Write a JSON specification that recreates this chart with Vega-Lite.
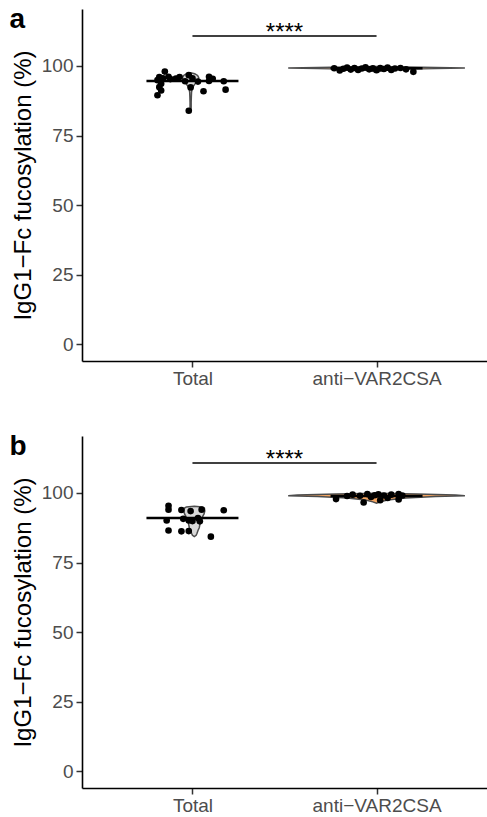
{
  "$schema": "https://vega.github.io/schema/vega-lite/v6.json",
  "padding": {"left": 9, "top": 5, "right": 0, "bottom": 0},
  "background": "white",
  "datasets": {
    "pointsA": [
      {"group": "Total", "pos": 0.85, "fucosylation": 98.0},
      {"group": "Total", "pos": 0.82, "fucosylation": 96.0},
      {"group": "Total", "pos": 0.84, "fucosylation": 95.6},
      {"group": "Total", "pos": 0.81, "fucosylation": 94.9},
      {"group": "Total", "pos": 0.83, "fucosylation": 93.6},
      {"group": "Total", "pos": 0.82, "fucosylation": 92.4},
      {"group": "Total", "pos": 0.81, "fucosylation": 89.5},
      {"group": "Total", "pos": 0.83, "fucosylation": 91.2},
      {"group": "Total", "pos": 0.87, "fucosylation": 96.1},
      {"group": "Total", "pos": 0.88, "fucosylation": 95.3},
      {"group": "Total", "pos": 0.91, "fucosylation": 95.5},
      {"group": "Total", "pos": 0.93, "fucosylation": 96.0},
      {"group": "Total", "pos": 0.96, "fucosylation": 94.5},
      {"group": "Total", "pos": 0.98, "fucosylation": 96.7},
      {"group": "Total", "pos": 1.00, "fucosylation": 95.6},
      {"group": "Total", "pos": 0.99, "fucosylation": 92.3},
      {"group": "Total", "pos": 0.98, "fucosylation": 83.9},
      {"group": "Total", "pos": 1.03, "fucosylation": 94.4},
      {"group": "Total", "pos": 1.06, "fucosylation": 90.9},
      {"group": "Total", "pos": 1.09, "fucosylation": 96.1},
      {"group": "Total", "pos": 1.11, "fucosylation": 95.4},
      {"group": "Total", "pos": 1.09, "fucosylation": 94.6},
      {"group": "Total", "pos": 1.17, "fucosylation": 94.5},
      {"group": "Total", "pos": 1.18, "fucosylation": 91.5},
      {"group": "anti-VAR2CSA", "pos": 1.77, "fucosylation": 99.2},
      {"group": "anti-VAR2CSA", "pos": 1.80, "fucosylation": 98.4},
      {"group": "anti-VAR2CSA", "pos": 1.82, "fucosylation": 99.0},
      {"group": "anti-VAR2CSA", "pos": 1.84, "fucosylation": 99.4},
      {"group": "anti-VAR2CSA", "pos": 1.86, "fucosylation": 98.7},
      {"group": "anti-VAR2CSA", "pos": 1.88, "fucosylation": 99.3},
      {"group": "anti-VAR2CSA", "pos": 1.90, "fucosylation": 98.6},
      {"group": "anti-VAR2CSA", "pos": 1.92, "fucosylation": 99.1},
      {"group": "anti-VAR2CSA", "pos": 1.94, "fucosylation": 99.5},
      {"group": "anti-VAR2CSA", "pos": 1.96, "fucosylation": 98.8},
      {"group": "anti-VAR2CSA", "pos": 1.98, "fucosylation": 99.2},
      {"group": "anti-VAR2CSA", "pos": 2.00, "fucosylation": 98.5},
      {"group": "anti-VAR2CSA", "pos": 2.02, "fucosylation": 99.3},
      {"group": "anti-VAR2CSA", "pos": 2.04, "fucosylation": 98.9},
      {"group": "anti-VAR2CSA", "pos": 2.06, "fucosylation": 99.4},
      {"group": "anti-VAR2CSA", "pos": 2.08, "fucosylation": 98.6},
      {"group": "anti-VAR2CSA", "pos": 2.10, "fucosylation": 99.1},
      {"group": "anti-VAR2CSA", "pos": 2.13, "fucosylation": 99.3},
      {"group": "anti-VAR2CSA", "pos": 2.16, "fucosylation": 98.8},
      {"group": "anti-VAR2CSA", "pos": 2.20, "fucosylation": 97.9}
    ],
    "pointsB": [
      {"group": "Total", "pos": 0.87, "fucosylation": 95.4},
      {"group": "Total", "pos": 0.87, "fucosylation": 94.0},
      {"group": "Total", "pos": 0.94, "fucosylation": 93.9},
      {"group": "Total", "pos": 1.05, "fucosylation": 94.0},
      {"group": "Total", "pos": 1.17, "fucosylation": 93.8},
      {"group": "Total", "pos": 0.86, "fucosylation": 90.1},
      {"group": "Total", "pos": 0.95, "fucosylation": 90.7},
      {"group": "Total", "pos": 0.98, "fucosylation": 90.1},
      {"group": "Total", "pos": 1.03, "fucosylation": 91.0},
      {"group": "Total", "pos": 1.04, "fucosylation": 89.8},
      {"group": "Total", "pos": 1.00, "fucosylation": 89.9},
      {"group": "Total", "pos": 0.87, "fucosylation": 86.5},
      {"group": "Total", "pos": 0.94, "fucosylation": 86.2},
      {"group": "Total", "pos": 0.98, "fucosylation": 86.3},
      {"group": "Total", "pos": 1.10, "fucosylation": 84.3},
      {"group": "Total", "pos": 0.99, "fucosylation": 93.5},
      {"group": "anti-VAR2CSA", "pos": 1.78, "fucosylation": 97.8},
      {"group": "anti-VAR2CSA", "pos": 1.84, "fucosylation": 98.9},
      {"group": "anti-VAR2CSA", "pos": 1.87, "fucosylation": 99.4},
      {"group": "anti-VAR2CSA", "pos": 1.91, "fucosylation": 99.0},
      {"group": "anti-VAR2CSA", "pos": 1.93, "fucosylation": 96.6},
      {"group": "anti-VAR2CSA", "pos": 1.95, "fucosylation": 99.6},
      {"group": "anti-VAR2CSA", "pos": 1.97, "fucosylation": 98.6},
      {"group": "anti-VAR2CSA", "pos": 1.99, "fucosylation": 99.2},
      {"group": "anti-VAR2CSA", "pos": 2.01, "fucosylation": 99.5},
      {"group": "anti-VAR2CSA", "pos": 2.02, "fucosylation": 97.4},
      {"group": "anti-VAR2CSA", "pos": 2.04, "fucosylation": 99.1},
      {"group": "anti-VAR2CSA", "pos": 2.06, "fucosylation": 98.2},
      {"group": "anti-VAR2CSA", "pos": 2.08, "fucosylation": 99.4},
      {"group": "anti-VAR2CSA", "pos": 2.12, "fucosylation": 99.6},
      {"group": "anti-VAR2CSA", "pos": 2.12, "fucosylation": 97.7},
      {"group": "anti-VAR2CSA", "pos": 2.14, "fucosylation": 99.1}
    ],
    "violinA": [
      {"group": "Total", "v": 83.8, "left": 0.990, "right": 0.990},
      {"group": "Total", "v": 85.0, "left": 0.987, "right": 0.993},
      {"group": "Total", "v": 87.0, "left": 0.987, "right": 0.993},
      {"group": "Total", "v": 89.0, "left": 0.986, "right": 0.994},
      {"group": "Total", "v": 90.5, "left": 0.985, "right": 0.995},
      {"group": "Total", "v": 91.8, "left": 0.982, "right": 0.998},
      {"group": "Total", "v": 92.6, "left": 0.976, "right": 1.004},
      {"group": "Total", "v": 93.4, "left": 0.968, "right": 1.012},
      {"group": "Total", "v": 94.2, "left": 0.958, "right": 1.022},
      {"group": "Total", "v": 95.0, "left": 0.949, "right": 1.031},
      {"group": "Total", "v": 95.8, "left": 0.946, "right": 1.034},
      {"group": "Total", "v": 96.6, "left": 0.952, "right": 1.028},
      {"group": "Total", "v": 97.2, "left": 0.968, "right": 1.012},
      {"group": "Total", "v": 97.6, "left": 0.990, "right": 0.990},
      {"group": "anti-VAR2CSA", "v": 97.8, "left": 2.00, "right": 2.00},
      {"group": "anti-VAR2CSA", "v": 98.3, "left": 1.97, "right": 2.03},
      {"group": "anti-VAR2CSA", "v": 98.8, "left": 1.89, "right": 2.11},
      {"group": "anti-VAR2CSA", "v": 99.1, "left": 1.68, "right": 2.32},
      {"group": "anti-VAR2CSA", "v": 99.3, "left": 1.52, "right": 2.48},
      {"group": "anti-VAR2CSA", "v": 99.5, "left": 1.68, "right": 2.32},
      {"group": "anti-VAR2CSA", "v": 99.8, "left": 2.00, "right": 2.00}
    ],
    "violinB": [
      {"group": "Total", "v": 84.3, "left": 1.010, "right": 1.010},
      {"group": "Total", "v": 84.8, "left": 1.000, "right": 1.020},
      {"group": "Total", "v": 85.5, "left": 0.995, "right": 1.025},
      {"group": "Total", "v": 86.5, "left": 0.990, "right": 1.030},
      {"group": "Total", "v": 87.5, "left": 0.983, "right": 1.037},
      {"group": "Total", "v": 88.5, "left": 0.980, "right": 1.040},
      {"group": "Total", "v": 89.5, "left": 0.977, "right": 1.043},
      {"group": "Total", "v": 90.5, "left": 0.972, "right": 1.048},
      {"group": "Total", "v": 91.5, "left": 0.965, "right": 1.055},
      {"group": "Total", "v": 92.5, "left": 0.957, "right": 1.063},
      {"group": "Total", "v": 93.5, "left": 0.953, "right": 1.067},
      {"group": "Total", "v": 94.5, "left": 0.955, "right": 1.065},
      {"group": "Total", "v": 95.0, "left": 0.967, "right": 1.053},
      {"group": "Total", "v": 95.2, "left": 1.010, "right": 1.010},
      {"group": "anti-VAR2CSA", "v": 96.3, "left": 2.00, "right": 2.00},
      {"group": "anti-VAR2CSA", "v": 96.8, "left": 1.98, "right": 2.02},
      {"group": "anti-VAR2CSA", "v": 97.5, "left": 1.94, "right": 2.06},
      {"group": "anti-VAR2CSA", "v": 98.2, "left": 1.84, "right": 2.16},
      {"group": "anti-VAR2CSA", "v": 98.7, "left": 1.68, "right": 2.32},
      {"group": "anti-VAR2CSA", "v": 99.0, "left": 1.52, "right": 2.48},
      {"group": "anti-VAR2CSA", "v": 99.3, "left": 1.57, "right": 2.43},
      {"group": "anti-VAR2CSA", "v": 99.6, "left": 1.78, "right": 2.22},
      {"group": "anti-VAR2CSA", "v": 99.9, "left": 2.00, "right": 2.00}
    ],
    "medianA": [
      {"group": "Total", "pos": 1, "median": 94.6},
      {"group": "anti-VAR2CSA", "pos": 2, "median": 99.2}
    ],
    "medianB": [
      {"group": "Total", "pos": 1, "median": 91.0},
      {"group": "anti-VAR2CSA", "pos": 2, "median": 98.9}
    ],
    "signif": [
      {"from": 1, "to": 2, "mid": 1.5, "y": 110.8, "label": "****"}
    ]
  },
  "vconcat": [
    {
      "width": 405,
      "height": 352,
      "resolve": {"axis": {"x": "independent"}},
      "layer": [
        {
          "data": {"name": "violinA"},
          "mark": {"type": "area", "orient": "horizontal", "stroke": "#4d4d4d", "strokeWidth": 1.5, "opacity": 1},
          "encoding": {
            "y": {"field": "v", "type": "quantitative", "scale": {"domain": [-6.1, 120.5], "nice": false, "zero": false}, "axis": {"values": [0, 25, 50, 75, 100], "title": "IgG1−Fc fucosylation (%)"}},
            "x": {"field": "left", "type": "quantitative", "scale": {"domain": [0.4, 2.6], "nice": false, "zero": false}, "axis": {"values": [1, 2], "title": null, "labelExpr": "datum.value == 1 ? 'Total' : 'anti−VAR2CSA'"}},
            "x2": {"field": "right"},
            "fill": {"field": "group", "type": "nominal", "scale": {"domain": ["Total", "anti-VAR2CSA"], "range": ["#d9d9d9", "#f4a460"]}, "legend": null},
            "detail": {"field": "group"}
          }
        },
        {
          "data": {"name": "medianA"},
          "mark": {"type": "tick", "orient": "horizontal", "size": 92, "thickness": 2.6, "color": "black", "opacity": 1},
          "encoding": {
            "x": {"field": "pos", "type": "quantitative", "axis": null},
            "y": {"field": "median", "type": "quantitative"}
          }
        },
        {
          "data": {"name": "pointsA"},
          "mark": {"type": "circle", "size": 44, "color": "black", "opacity": 1},
          "encoding": {
            "x": {"field": "pos", "type": "quantitative", "axis": null},
            "y": {"field": "fucosylation", "type": "quantitative"}
          }
        },
        {
          "data": {"name": "signif"},
          "mark": {"type": "rule", "color": "black", "strokeWidth": 1.6},
          "encoding": {
            "x": {"field": "from", "type": "quantitative", "axis": {"orient": "top", "title": "a", "domain": false, "ticks": false, "labels": false, "titleFontSize": 28, "titleFontWeight": "bold", "titleColor": "black", "titleAngle": 0, "titleAlign": "left", "titleBaseline": "alphabetic", "titleX": -73, "titleY": 18}},
            "x2": {"field": "to"},
            "y": {"field": "y", "type": "quantitative"}
          }
        },
        {
          "data": {"name": "signif"},
          "mark": {"type": "text", "baseline": "bottom", "fontSize": 24, "font": "Liberation Sans", "dy": 9, "color": "black"},
          "encoding": {
            "x": {"field": "mid", "type": "quantitative", "axis": null},
            "y": {"field": "y", "type": "quantitative"},
            "text": {"field": "label"}
          }
        }
      ]
    },
    {
      "width": 405,
      "height": 352,
      "resolve": {"axis": {"x": "independent"}},
      "layer": [
        {
          "data": {"name": "violinB"},
          "mark": {"type": "area", "orient": "horizontal", "stroke": "#4d4d4d", "strokeWidth": 1.5, "opacity": 1},
          "encoding": {
            "y": {"field": "v", "type": "quantitative", "scale": {"domain": [-6.1, 120.5], "nice": false, "zero": false}, "axis": {"values": [0, 25, 50, 75, 100], "title": "IgG1−Fc fucosylation (%)"}},
            "x": {"field": "left", "type": "quantitative", "scale": {"domain": [0.4, 2.6], "nice": false, "zero": false}, "axis": {"values": [1, 2], "title": null, "labelExpr": "datum.value == 1 ? 'Total' : 'anti−VAR2CSA'"}},
            "x2": {"field": "right"},
            "fill": {"field": "group", "type": "nominal", "scale": {"domain": ["Total", "anti-VAR2CSA"], "range": ["#d9d9d9", "#f4a460"]}, "legend": null},
            "detail": {"field": "group"}
          }
        },
        {
          "data": {"name": "medianB"},
          "mark": {"type": "tick", "orient": "horizontal", "size": 92, "thickness": 2.6, "color": "black", "opacity": 1},
          "encoding": {
            "x": {"field": "pos", "type": "quantitative", "axis": null},
            "y": {"field": "median", "type": "quantitative"}
          }
        },
        {
          "data": {"name": "pointsB"},
          "mark": {"type": "circle", "size": 44, "color": "black", "opacity": 1},
          "encoding": {
            "x": {"field": "pos", "type": "quantitative", "axis": null},
            "y": {"field": "fucosylation", "type": "quantitative"}
          }
        },
        {
          "data": {"name": "signif"},
          "mark": {"type": "rule", "color": "black", "strokeWidth": 1.6},
          "encoding": {
            "x": {"field": "from", "type": "quantitative", "axis": {"orient": "top", "title": "b", "domain": false, "ticks": false, "labels": false, "titleFontSize": 28, "titleFontWeight": "bold", "titleColor": "black", "titleAngle": 0, "titleAlign": "left", "titleBaseline": "alphabetic", "titleX": -73, "titleY": 18}},
            "x2": {"field": "to"},
            "y": {"field": "y", "type": "quantitative"}
          }
        },
        {
          "data": {"name": "signif"},
          "mark": {"type": "text", "baseline": "bottom", "fontSize": 24, "font": "Liberation Sans", "dy": 9, "color": "black"},
          "encoding": {
            "x": {"field": "mid", "type": "quantitative", "axis": null},
            "y": {"field": "y", "type": "quantitative"},
            "text": {"field": "label"}
          }
        }
      ]
    }
  ],
  "spacing": 44,
  "config": {
    "view": {"stroke": null},
    "font": "Liberation Sans",
    "axis": {
      "grid": false,
      "domainColor": "black",
      "domainWidth": 1.6,
      "tickColor": "#333333",
      "tickWidth": 1.5,
      "tickSize": 6,
      "labelColor": "#4d4d4d",
      "labelFont": "Liberation Sans",
      "labelFontSize": 19,
      "labelPadding": 3,
      "titleFont": "Liberation Sans",
      "titleFontSize": 24,
      "titleFontWeight": "normal",
      "titleColor": "black",
      "titlePadding": 6
    },
    "axisX": {"labelPadding": 2}
  }
}
